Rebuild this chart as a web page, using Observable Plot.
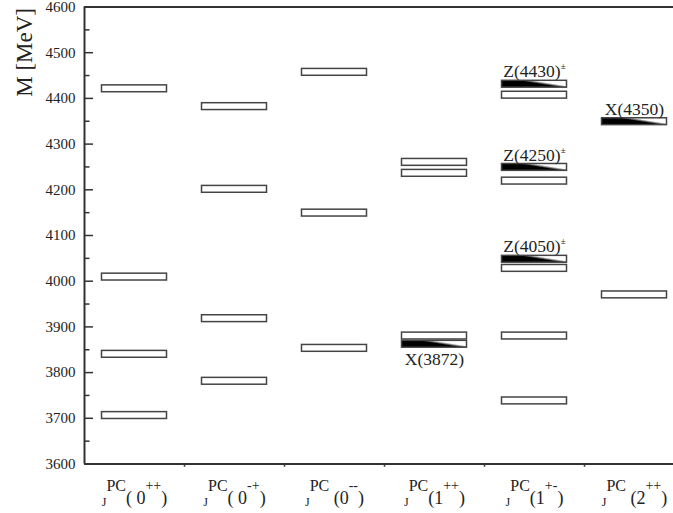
<!DOCTYPE html>
<html><head><meta charset="utf-8">
<script src="https://cdn.jsdelivr.net/npm/d3@7"></script>
<script src="https://cdn.jsdelivr.net/npm/@observablehq/plot@0.6"></script>
<style>body{margin:0;background:#fff}</style>
</head><body><div id="chart"></div>
<script>
// ---- data ----
const categories = ["0++", "0-+", "0--", "1++", "1+-", "2++"];
const labelMain = ["( 0", "( 0", " (0", "(1", "(1", " (2"];
const labelSup = ["++", "-+", "--", "++", "+-", "++"];

const theoryCat = ["0++","0++","0++","0++","0-+","0-+","0-+","0-+","0--","0--","0--",
                   "1++","1++","1++","1+-","1+-","1+-","1+-","1+-","2++"];
const theoryMass = [4421,4009,3840,3706, 4382,4201,3918,3781, 4457,4149,3853,
                    4260,4236,3880, 4407,4219,4028,3880,3738, 3970];

const expCat = ["1++", "1+-", "1+-", "1+-", "2++"];
const expMass = [3862, 4431, 4249, 4048, 4349];
const expName = ["X(3872)", "Z(4430)", "Z(4250)", "Z(4050)", "X(4350)"];
const expCharged = [false, true, true, true, false];
const expBelow = [true, false, false, false, false];

const yTicks = [3600,3700,3800,3900,4000,4100,4200,4300,4400,4500,4600];
const yMinor = [3650,3750,3850,3950,4050,4150,4250,4350,4450,4550];
const xBounds = [1, 2, 3, 4, 5];

// ---- derived tables ----
const half = 7.5;
const theory = theoryCat.map((c, i) => ({i: categories.indexOf(c), m: theoryMass[i]}));
const exp = expCat.map((c, i) => ({i: categories.indexOf(c), m: expMass[i],
  name: expName[i] + (expCharged[i] ? "±" : ""), below: expBelow[i]}));

const serif = "Liberation Serif, Times New Roman, serif";
const ink = "#333";

const svg = Plot.plot({
  width: 673, height: 513,
  marginLeft: 84, marginRight: 0, marginTop: 6.5, marginBottom: 49.5,
  x: {domain: [0, 6], range: [84, 684], axis: null},
  y: {domain: [3600, 4600]},
  style: {fontFamily: serif, fontSize: "15px", color: "#222", background: "white"},
  marks: [
    Plot.ruleY(yTicks, {x1: () => 0, x2: () => 0.09, stroke: ink, strokeWidth: 1.5}),
    Plot.ruleY(yMinor, {x1: () => 0, x2: () => 0.055, stroke: ink, strokeWidth: 1.5}),
    Plot.ruleX(xBounds, {y1: () => 3600, y2: () => 3593, stroke: ink, strokeWidth: 1.5}),
    Plot.ruleX([0], {stroke: ink, strokeWidth: 2}),
    Plot.ruleY([3600, 4600], {stroke: ink, strokeWidth: 2}),
    Plot.axisY(yTicks, {tickSize: 0, tickPadding: 9, tickFormat: "d", fontSize: 15, label: null}),
    Plot.rect(theory, {x1: d => d.i + 0.175, x2: d => d.i + 0.825,
      y1: d => d.m - half, y2: d => d.m + half, fill: "white", stroke: "#444", strokeWidth: 1.5}),
    Plot.rect(exp, {x1: d => d.i + 0.175, x2: d => d.i + 0.825,
      y1: d => d.m - half, y2: d => d.m + half, fill: "url(#wedge)", stroke: "#444", strokeWidth: 1.5}),
    Plot.text(exp.filter(d => !d.below), {x: d => d.i + 0.5, y: d => d.m + half, text: "name",
      dy: -9, fontSize: 17.5, fill: "#222", ariaDescription: "exp-label"}),
    Plot.text(exp.filter(d => d.below), {x: d => d.i + 0.5, y: d => d.m - half, text: "name",
      dy: 12, fontSize: 17.5, fill: "#222", ariaDescription: "exp-label"}),
    Plot.text(categories, {x: (d, i) => i + 0.5, frameAnchor: "bottom", dy: 41.5,
      text: d => d, fill: "#222", ariaDescription: "cat-label"}),
    Plot.text(["M [MeV]"], {frameAnchor: "top-left", rotate: -90, textAnchor: "end",
      dx: -69, dy: 1, fontSize: 23, fill: "#222"})
  ]
});

// gradient used for the experimental states
d3.select(svg).insert("defs", ":first-child").html(
  `<linearGradient id="wedge" x1="0" y1="0" x2="0.703" y2="-0.457">
     <stop offset="0" stop-color="#000"/><stop offset="0.24" stop-color="#000"/>
     <stop offset="0.48" stop-color="#fff"/><stop offset="1" stop-color="#fff"/>
   </linearGradient>`);

const NS = "http://www.w3.org/2000/svg";
// superscript ± on charged states
svg.querySelectorAll('g[aria-description="exp-label"] text').forEach(t => {
  const s = t.textContent;
  if (s.endsWith("±")) {
    t.textContent = "";
    const a = document.createElementNS(NS, "tspan");
    a.textContent = s.slice(0, -1);
    const b = document.createElementNS(NS, "tspan");
    b.textContent = "±"; b.setAttribute("font-size", "9"); b.setAttribute("dy", "-8");
    t.append(a, b);
  }
});

// category labels J^PC(...)
svg.querySelectorAll('g[aria-description="cat-label"] text').forEach(t => {
  const k = categories.indexOf(t.textContent);
  t.textContent = "";
  t.setAttribute("y", "0");
  t.style.whiteSpace = "pre";
  const parts = [["J", 12, 0], ["PC", 16, -15], [labelMain[k], 18, 13], [labelSup[k], 14, -14], [")", 18, 14]];
  for (const [txt, fs, dy] of parts) {
    const ts = document.createElementNS(NS, "tspan");
    ts.textContent = txt; ts.setAttribute("font-size", fs); ts.setAttribute("dy", dy);
    t.append(ts);
  }
});

document.getElementById("chart").append(svg);
</script>
</body></html>
